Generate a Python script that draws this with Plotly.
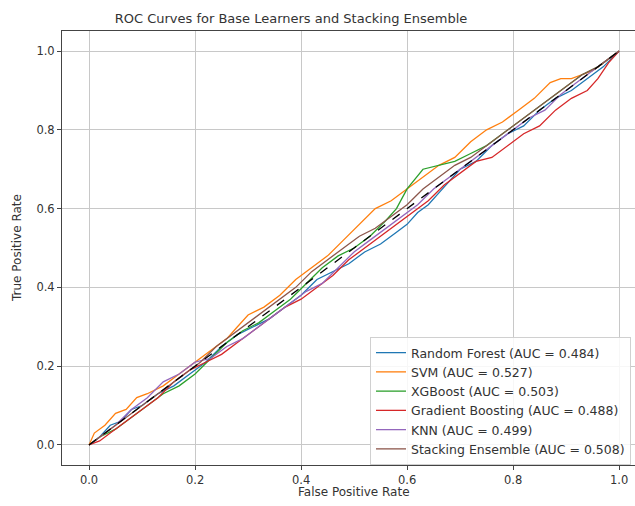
import plotly.graph_objects as go

# ---- data ----
model_names = ["Random Forest", "SVM", "XGBoost", "Gradient Boosting", "KNN", "Stacking Ensemble"]
auc_values = [0.484, 0.527, 0.503, 0.488, 0.499, 0.508]
colors = ["#1f77b4", "#ff7f0e", "#2ca02c", "#d62728", "#9467bd", "#8c564b"]

rf_fpr = [0, 0.02, 0.04, 0.06, 0.08, 0.10, 0.13, 0.16, 0.19, 0.22, 0.25, 0.28, 0.31, 0.34, 0.37, 0.40, 0.43, 0.46, 0.49, 0.52, 0.55, 0.58, 0.60, 0.62, 0.64, 0.66, 0.68, 0.70, 0.73, 0.76, 0.79, 0.82, 0.85, 0.88, 0.91, 0.94, 0.97, 1.0]
rf_tpr = [0, 0.02, 0.05, 0.06, 0.09, 0.10, 0.13, 0.15, 0.18, 0.21, 0.25, 0.28, 0.30, 0.32, 0.35, 0.38, 0.42, 0.44, 0.46, 0.49, 0.51, 0.54, 0.56, 0.59, 0.61, 0.64, 0.67, 0.70, 0.72, 0.76, 0.79, 0.81, 0.85, 0.88, 0.90, 0.93, 0.96, 1.0]

svm_fpr = [0, 0.01, 0.03, 0.05, 0.07, 0.09, 0.11, 0.14, 0.17, 0.20, 0.23, 0.26, 0.28, 0.30, 0.33, 0.36, 0.39, 0.42, 0.45, 0.48, 0.51, 0.54, 0.57, 0.60, 0.63, 0.66, 0.69, 0.72, 0.75, 0.78, 0.81, 0.84, 0.87, 0.89, 0.91, 0.93, 0.95, 0.97, 1.0]
svm_tpr = [0, 0.03, 0.05, 0.08, 0.09, 0.12, 0.13, 0.15, 0.18, 0.21, 0.24, 0.27, 0.30, 0.33, 0.35, 0.38, 0.42, 0.45, 0.48, 0.52, 0.56, 0.60, 0.62, 0.65, 0.68, 0.71, 0.73, 0.77, 0.80, 0.82, 0.85, 0.88, 0.92, 0.93, 0.93, 0.94, 0.95, 0.97, 1.0]

xgb_fpr = [0, 0.02, 0.05, 0.08, 0.11, 0.14, 0.17, 0.20, 0.23, 0.26, 0.29, 0.32, 0.35, 0.38, 0.41, 0.44, 0.47, 0.50, 0.53, 0.56, 0.58, 0.60, 0.63, 0.66, 0.69, 0.72, 0.75, 0.78, 0.81, 0.84, 0.87, 0.90, 0.93, 0.96, 1.0]
xgb_tpr = [0, 0.02, 0.04, 0.07, 0.10, 0.13, 0.15, 0.18, 0.22, 0.26, 0.29, 0.31, 0.34, 0.37, 0.41, 0.45, 0.48, 0.50, 0.53, 0.57, 0.60, 0.65, 0.70, 0.71, 0.72, 0.74, 0.76, 0.79, 0.82, 0.85, 0.88, 0.91, 0.94, 0.96, 1.0]

gb_fpr = [0, 0.02, 0.04, 0.07, 0.10, 0.13, 0.16, 0.19, 0.22, 0.25, 0.28, 0.31, 0.34, 0.37, 0.40, 0.43, 0.46, 0.49, 0.52, 0.55, 0.58, 0.61, 0.64, 0.67, 0.70, 0.73, 0.76, 0.79, 0.82, 0.85, 0.88, 0.91, 0.94, 0.96, 0.98, 1.0]
gb_tpr = [0, 0.01, 0.03, 0.06, 0.09, 0.12, 0.16, 0.19, 0.21, 0.23, 0.26, 0.29, 0.32, 0.35, 0.37, 0.40, 0.43, 0.47, 0.50, 0.53, 0.56, 0.59, 0.62, 0.66, 0.69, 0.72, 0.73, 0.76, 0.79, 0.81, 0.85, 0.88, 0.90, 0.93, 0.97, 1.0]

knn_fpr = [0, 0.02, 0.05, 0.08, 0.11, 0.14, 0.17, 0.20, 0.23, 0.26, 0.29, 0.32, 0.35, 0.38, 0.41, 0.44, 0.47, 0.50, 0.53, 0.56, 0.59, 0.62, 0.65, 0.68, 0.71, 0.74, 0.77, 0.80, 0.83, 0.86, 0.89, 0.92, 0.95, 0.98, 1.0]
knn_tpr = [0, 0.02, 0.05, 0.09, 0.12, 0.16, 0.18, 0.21, 0.22, 0.25, 0.27, 0.30, 0.33, 0.36, 0.39, 0.41, 0.45, 0.49, 0.52, 0.55, 0.58, 0.61, 0.65, 0.68, 0.71, 0.74, 0.77, 0.80, 0.83, 0.85, 0.89, 0.92, 0.95, 0.98, 1.0]

stk_fpr = [0, 0.03, 0.06, 0.09, 0.12, 0.15, 0.18, 0.21, 0.24, 0.27, 0.30, 0.33, 0.36, 0.39, 0.42, 0.45, 0.48, 0.51, 0.54, 0.57, 0.60, 0.63, 0.66, 0.69, 0.72, 0.75, 0.78, 0.81, 0.84, 0.87, 0.90, 0.93, 0.96, 1.0]
stk_tpr = [0, 0.03, 0.06, 0.09, 0.12, 0.15, 0.18, 0.21, 0.25, 0.28, 0.31, 0.34, 0.37, 0.40, 0.44, 0.47, 0.50, 0.53, 0.55, 0.58, 0.61, 0.65, 0.68, 0.71, 0.73, 0.76, 0.79, 0.82, 0.85, 0.88, 0.91, 0.94, 0.96, 1.0]

chance_x = [0, 1]
chance_y = [0, 1]

tick_vals = [0.0, 0.2, 0.4, 0.6, 0.8, 1.0]
tick_text = ["0.0", "0.2", "0.4", "0.6", "0.8", "1.0"]

curves = [(rf_fpr, rf_tpr), (svm_fpr, svm_tpr), (xgb_fpr, xgb_tpr),
          (gb_fpr, gb_tpr), (knn_fpr, knn_tpr), (stk_fpr, stk_tpr)]

FONT = "DejaVu Sans"
TXT = "#333333"

fig = go.Figure()
for (fx, ty), name, auc, col in zip(curves, model_names, auc_values, colors):
    fig.add_trace(go.Scatter(
        x=fx, y=ty, mode="lines",
        name=f"{name} (AUC = {auc:.3f})",
        line=dict(color=col, width=1.3),
    ))

fig.add_trace(go.Scatter(
    x=chance_x, y=chance_y, mode="lines", showlegend=False,
    line=dict(color="black", width=1.3, dash="dash"),
))

fig.update_layout(
    width=635, height=506,
    margin=dict(l=62, r=0, t=31, b=41),
    paper_bgcolor="white", plot_bgcolor="white",
    font=dict(family=FONT, size=11, color=TXT),
    title=dict(text="ROC Curves for Base Learners and Stacking Ensemble",
               x=291 / 635, xref="container", xanchor="center",
               y=1 - 18 / 506, yref="container", yanchor="middle",
               font=dict(family=FONT, size=13, color=TXT)),
    showlegend=True,
    legend=dict(x=(370 - 62) / 573, xanchor="left",
                y=(465 - 337) / 434, yanchor="top",
                bgcolor="rgba(255,255,255,0.85)",
                bordercolor="#d0d0d0", borderwidth=1,
                font=dict(family=FONT, size=12.5, color=TXT),
                tracegroupgap=0),
    xaxis=dict(range=[-0.051, 1.030], tickvals=tick_vals, ticktext=tick_text,
               showgrid=True, gridcolor="#c8c8c8", gridwidth=1,
               zeroline=False, showline=True, linecolor="#444", linewidth=1,
               mirror=True, ticks="outside", ticklen=4, tickcolor="#444",
               tickfont=dict(size=11.5)),
    yaxis=dict(range=[-0.051, 1.051], tickvals=tick_vals, ticktext=tick_text,
               showgrid=True, gridcolor="#c8c8c8", gridwidth=1,
               zeroline=False, showline=True, linecolor="#444", linewidth=1,
               mirror=False, ticks="outside", ticklen=4, tickcolor="#444",
               tickfont=dict(size=11.5)),
    annotations=[
        dict(text="False Positive Rate", x=(354 - 62) / 573, y=(465 - 492) / 434,
             xref="paper", yref="paper", showarrow=False,
             xanchor="center", yanchor="middle",
             font=dict(family=FONT, size=12, color=TXT)),
        dict(text="True Positive Rate", x=(17 - 62) / 573, y=0.5,
             xref="paper", yref="paper", showarrow=False, textangle=-90,
             xanchor="center", yanchor="middle",
             font=dict(family=FONT, size=12, color=TXT)),
    ],
)

fig.write_html("out.html")
